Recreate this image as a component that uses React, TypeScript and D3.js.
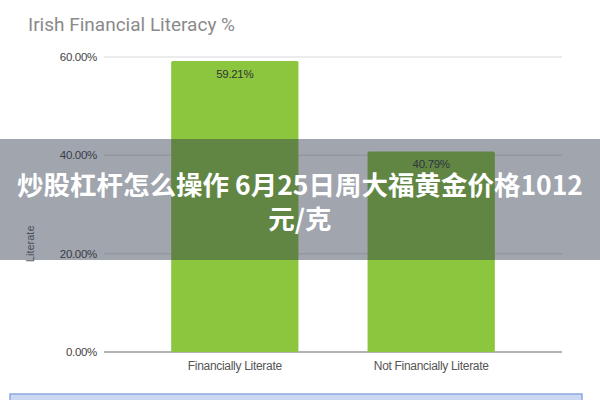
import React from 'react'
import * as d3 from 'd3'

const categories = ['Financially Literate', 'Not Financially Literate']
const literacyValues = [59.21, 40.79]
const yTicks = [0, 20, 40, 60]
const chartTitle = 'Irish Financial Literacy %'
const yAxisLabel = 'Literate'
const overlayLines = ['炒股杠杆怎么操作 6月25日周大福黄金价格1012', '元/克']

const width = 600
const height = 400
const margin = { top: 57, right: 38, bottom: 48, left: 104 }

export default function App() {
  const chartWidth = width - margin.left - margin.right
  const chartHeight = height - margin.top - margin.bottom

  const x = d3.scaleBand<string>()
    .domain(categories)
    .range([0, chartWidth])
    .paddingInner(0.352)
    .paddingOuter(0.342)

  const y = d3.scaleLinear()
    .domain([0, 60])
    .range([chartHeight, 0])

  const fmt = (v: number) => d3.format('.2f')(v) + '%'
  const smallFont = "'Liberation Sans Narrow', 'Liberation Sans', Arial, sans-serif"

  return (
    <svg
      width={width}
      height={height}
      style={{ position: 'absolute', left: 0, top: 0, background: '#fff' }}
    >
      <rect width={width} height={height} fill="#fff" />

      {/* 標題 */}
      <text
        x={28}
        y={31}
        fontFamily="Roboto, 'Liberation Sans', sans-serif"
        fontSize={19}
        fill="#8a8a8a"
      >
        {chartTitle}
      </text>

      <g transform={`translate(${margin.left},${margin.top})`}>
        {/* 網格線 */}
        {yTicks.map(t => (
          <g key={t}>
            <line
              x1={0}
              x2={chartWidth}
              y1={y(t)}
              y2={y(t)}
              stroke={t === 0 ? '#9a9a9a' : '#e6e6e6'}
              strokeWidth={1.5}
            />
            <text
              x={-7}
              y={y(t)}
              dy="0.35em"
              textAnchor="end"
              fontFamily={smallFont}
              fontSize={11.5}
              letterSpacing={-0.3}
              fill="#444"
            >
              {fmt(t)}
            </text>
          </g>
        ))}

        {/* 柱 */}
        {categories.map((c, i) => (
          <g key={c}>
            <rect
              x={x(c)}
              y={y(literacyValues[i])}
              width={x.bandwidth()}
              height={chartHeight - y(literacyValues[i])}
              fill="#8cc63e"
              rx={1.5}
            />
            <text
              x={(x(c) ?? 0) + x.bandwidth() / 2}
              y={y(literacyValues[i]) + 17}
              textAnchor="middle"
              fontFamily={smallFont}
              fontSize={11.5}
              letterSpacing={-0.3}
              fill="#333"
            >
              {fmt(literacyValues[i])}
            </text>
            <text
              x={(x(c) ?? 0) + x.bandwidth() / 2}
              y={chartHeight + 18}
              textAnchor="middle"
              fontFamily={smallFont}
              fontSize={12}
              letterSpacing={-0.3}
              fill="#555"
            >
              {c}
            </text>
          </g>
        ))}

        {/* Y軸標籤 */}
        <text
          transform={`translate(${-70},${y(22)}) rotate(-90)`}
          textAnchor="middle"
          fontFamily={smallFont}
          fontSize={11}
          fill="#666"
        >
          {yAxisLabel}
        </text>
      </g>

      {/* 底部藍條 */}
      <rect x={10} y={394} width={572} height={10} fill="#cbd8f2" stroke="#8ea9df" strokeWidth={1.5} />

      {/* 半透明遮罩與文字 */}
      <rect x={0} y={139} width={width} height={121} fill="rgba(45,55,75,0.45)" />
      {overlayLines.map((line, i) => (
        <text
          key={i}
          x={width / 2}
          y={195 + i * 34}
          textAnchor="middle"
          fontFamily="'Noto Sans CJK SC', sans-serif"
          fontWeight="bold"
          fontSize={26.5}
          fill="#fff"
        >
          {line}
        </text>
      ))}
    </svg>
  )
}
